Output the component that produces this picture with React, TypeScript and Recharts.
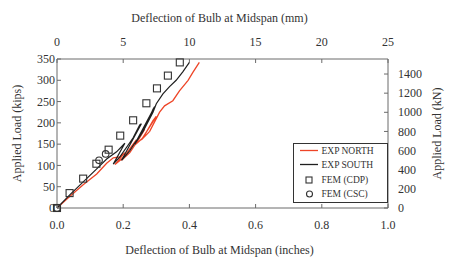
import { ComposedChart, Line, Scatter, XAxis, YAxis, Legend } from "recharts";

// EXP NORTH (red) — deflection in inches, load in kips
const NORTH_IN = [0, 0.04, 0.08, 0.12, 0.15, 0.17, 0.19, 0.205, 0.175, 0.2, 0.23, 0.24, 0.195, 0.22, 0.25, 0.265, 0.235, 0.26, 0.29, 0.3, 0.255, 0.28, 0.31, 0.325, 0.35, 0.37, 0.396, 0.41, 0.43];
const NORTH_KIPS = [0, 28, 55, 80, 105, 118, 120, 130, 102, 118, 150, 160, 112, 130, 165, 185, 148, 165, 205, 215, 160, 180, 225, 240, 252, 275, 300, 318, 342];

// EXP SOUTH (black)
const SOUTH_IN = [0, 0.04, 0.08, 0.12, 0.15, 0.18, 0.2, 0.205, 0.17, 0.19, 0.215, 0.23, 0.25, 0.255, 0.195, 0.22, 0.25, 0.27, 0.29, 0.295, 0.235, 0.26, 0.29, 0.3, 0.32, 0.34, 0.36, 0.38, 0.4];
const SOUTH_KIPS = [0, 32, 62, 92, 115, 132, 148, 152, 103, 120, 148, 165, 195, 198, 112, 135, 170, 195, 232, 238, 150, 180, 225, 245, 268, 285, 300, 320, 342];

// FEM markers
const CDP_IN = [0, 0.038, 0.079, 0.119, 0.156, 0.191, 0.23, 0.27, 0.302, 0.335, 0.371];
const CDP_KIPS = [0, 35, 69, 104, 137, 170, 206, 246, 281, 311, 342];
const CSC_IN = [0, 0.127, 0.147];
const CSC_KIPS = [0, 112, 127];

const IN_TICKS = [0, 0.2, 0.4, 0.6, 0.8, 1.0];
const MM_TICKS = [0, 5, 10, 15, 20, 25];
const KIPS_TICKS = [0, 50, 100, 150, 200, 250, 300, 350];
const KN_TICKS = [0, 200, 400, 600, 800, 1000, 1200, 1400];

const zip = (xs: number[], ys: number[]) => xs.map((x, i) => ({ x, y: ys[i] }));
const north = zip(NORTH_IN, NORTH_KIPS);
const south = zip(SOUTH_IN, SOUTH_KIPS);
const cdp = zip(CDP_IN, CDP_KIPS);
const csc = zip(CSC_IN, CSC_KIPS);
// invisible anchor so the secondary (mm / kN) axes get drawn
const secondary = [{ x: 0, y: 0 }];

const RED = "#ee4527";
const DARK = "#1f1f1f";
const AXIS = "#6b6b6b";
const TEXT = "#333";
const FONT = "'Liberation Serif', 'Times New Roman', serif";

const mkTick =
  (anchor: "start" | "middle" | "end", dy: string, fmt?: (v: number) => string) =>
  (p: any) => (
    <text x={p.x} y={p.y} dy={dy} textAnchor={anchor} fontSize={12} fontFamily={FONT} fill={TEXT}>
      {fmt ? fmt(p.payload.value) : p.payload.value}
    </text>
  );

const Square = (p: any) => (
  <rect x={p.cx - 3.5} y={p.cy - 3.5} width={7} height={7} fill="none" stroke={TEXT} strokeWidth={1.1} />
);
const Circle = (p: any) => <circle cx={p.cx} cy={p.cy} r={3.3} fill="none" stroke={TEXT} strokeWidth={1.1} />;
const Nothing = () => <g />;

const vTitle = (cx: number, text: string) => (props: any) => {
  const vb = props.viewBox || {};
  const cy = (vb.y ?? 0) + (vb.height ?? 0) / 2;
  return (
    <text x={cx} y={cy} transform={`rotate(-90 ${cx} ${cy})`} textAnchor="middle" dominantBaseline="central" fontSize={12} fontFamily={FONT} fill={TEXT}>
      {text}
    </text>
  );
};
const hTitle = (cy: number, text: string) => (props: any) => {
  const vb = props.viewBox || {};
  const cx = (vb.x ?? 0) + (vb.width ?? 0) / 2 - 3;
  return (
    <text x={cx} y={cy} textAnchor="middle" dominantBaseline="central" fontSize={12} fontFamily={FONT} fill={TEXT}>
      {text}
    </text>
  );
};

function LegendBox() {
  const rows = [
    { name: "EXP NORTH", kind: "line", color: RED },
    { name: "EXP SOUTH", kind: "line", color: DARK },
    { name: "FEM (CDP)", kind: "square" },
    { name: "FEM (CSC)", kind: "circle" },
  ];
  const ys = [7.5, 21.5, 37, 51];
  return (
    <svg width={95} height={60} style={{ display: "block" }}>
      <rect x={0.5} y={0.5} width={94} height={59} fill="#fff" stroke={TEXT} strokeWidth={1} />
      {rows.map((r, i) => (
        <g key={r.name}>
          {r.kind === "line" && <line x1={7} x2={25} y1={ys[i]} y2={ys[i]} stroke={r.color} strokeWidth={1.3} />}
          {r.kind === "square" && <rect x={13} y={ys[i] - 3} width={6} height={6} fill="none" stroke={TEXT} strokeWidth={1.1} />}
          {r.kind === "circle" && <circle cx={16.5} cy={ys[i]} r={3} fill="none" stroke={TEXT} strokeWidth={1.1} />}
          <text x={28.5} y={ys[i]} dominantBaseline="central" fontSize={9.5} fontFamily={FONT} fill={TEXT}>
            {r.name}
          </text>
        </g>
      ))}
    </svg>
  );
}

export default function App() {
  return (
    <div style={{ position: "absolute", left: 0, top: 0, width: 450, height: 264, background: "#fff", fontFamily: FONT }}>
      <ComposedChart width={450} height={264} margin={{ top: 5, right: 2, bottom: 0, left: 5 }}>
        <XAxis
          xAxisId="in"
          type="number"
          dataKey="x"
          domain={[0, 1]}
          ticks={IN_TICKS}
          interval={0}
          height={56}
          tick={mkTick("middle", "0.71em", (v) => v.toFixed(1))}
          tickSize={-4}
          tickMargin={16}
          axisLine={{ stroke: AXIS }}
          tickLine={{ stroke: AXIS }}
          label={{ content: hTitle(250, "Deflection of Bulb at Midspan (inches)") }}
        />
        <XAxis
          xAxisId="mm"
          orientation="top"
          type="number"
          dataKey="x"
          domain={[0, 25]}
          ticks={MM_TICKS}
          interval={0}
          allowDataOverflow
          height={54}
          tick={mkTick("middle", "0")}
          tickSize={-4}
          tickMargin={17}
          axisLine={{ stroke: AXIS }}
          tickLine={{ stroke: AXIS }}
          label={{ content: hTitle(17.5, "Deflection of Bulb at Midspan (mm)") }}
        />
        <YAxis
          yAxisId="kips"
          type="number"
          domain={[0, 350]}
          ticks={KIPS_TICKS}
          interval={0}
          width={52}
          tick={mkTick("end", "0.35em")}
          tickSize={-4}
          tickMargin={6}
          axisLine={{ stroke: AXIS }}
          tickLine={{ stroke: AXIS }}
          label={{ content: vTitle(17, "Applied Load (kips)") }}
        />
        <YAxis
          yAxisId="kn"
          orientation="right"
          type="number"
          domain={[0, 1556.9]}
          ticks={KN_TICKS}
          interval={0}
          allowDataOverflow
          width={60}
          tick={mkTick("start", "0.35em")}
          tickSize={-4}
          tickMargin={14}
          axisLine={{ stroke: AXIS }}
          tickLine={{ stroke: AXIS }}
          label={{ content: vTitle(437, "Applied Load (kN)") }}
        />
        <Line xAxisId="in" yAxisId="kips" data={north} dataKey="y" stroke={RED} strokeWidth={1.3} dot={false} isAnimationActive={false} />
        <Line xAxisId="in" yAxisId="kips" data={south} dataKey="y" stroke={DARK} strokeWidth={1.2} dot={false} isAnimationActive={false} />
        <Scatter xAxisId="in" yAxisId="kips" data={cdp} dataKey="y" shape={Square} isAnimationActive={false} />
        <Scatter xAxisId="in" yAxisId="kips" data={csc} dataKey="y" shape={Circle} isAnimationActive={false} />
        <Scatter xAxisId="mm" yAxisId="kn" data={secondary} dataKey="y" shape={Nothing} legendType="none" isAnimationActive={false} />
        <Legend
          layout="vertical"
          align="center"
          verticalAlign="middle"
          content={() => <LegendBox />}
          wrapperStyle={{ left: 293, top: 143, width: 95, height: 60 }}
        />
      </ComposedChart>
    </div>
  );
}
